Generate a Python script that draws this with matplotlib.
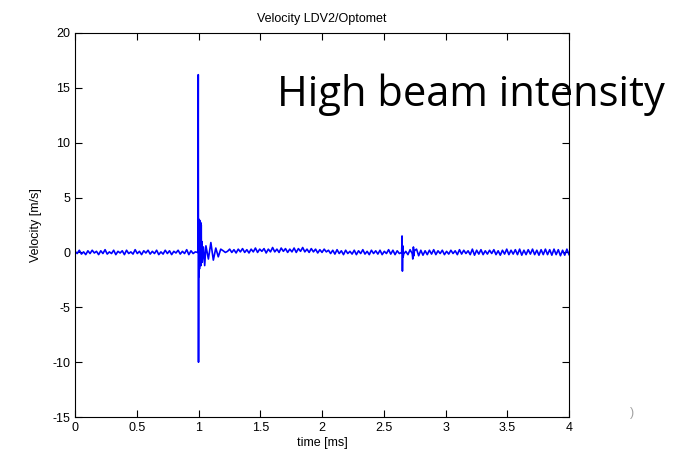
import numpy as np
import matplotlib
matplotlib.use("Agg")
import matplotlib.pyplot as plt

# baseline noise, evenly spaced over 0..4 ms
noise = [0.1, -0.1, 0.2, -0.15, 0.05, -0.2, 0.15, -0.1, 0.2, -0.05,
         0.1, -0.2, 0.15, -0.1, 0.25, -0.15, 0.05, -0.1, 0.2, -0.2,
         0.1, -0.05, 0.15, -0.2, 0.2, -0.1, 0.05, -0.15, 0.25, -0.1,
         0.1, -0.2, 0.15, -0.05, 0.2, -0.15, 0.1, -0.1, 0.2, -0.2,
         0.05, -0.15, 0.2, -0.1, 0.15, -0.2, 0.1, -0.05, 0.2, -0.15,
         0.1, -0.1, 0.25, -0.2, 0.15, -0.1, 0.05, -0.15, 0.2, -0.1,
         0.0, 0.1, -0.1, 0.2, -0.1, 0.1, 0.0, 0.2, -0.1, 0.15, 0.0, 0.1,
         0.3, 0.0, 0.25, -0.05, 0.3, 0.05, 0.35, 0.0, 0.25, -0.05,
         0.3, 0.05, 0.4, 0.0, 0.3, 0.1, 0.35, -0.05, 0.3, 0.05,
         0.45, 0.05, 0.3, 0.0, 0.4, 0.1, 0.35, 0.0, 0.3, 0.05,
         0.4, 0.0, 0.35, 0.1, 0.45, 0.05, 0.3, 0.0, 0.35, 0.05,
         0.3, -0.05, 0.25, 0.0, 0.3, 0.05, 0.2, -0.1,
         0.2, -0.15, 0.25, -0.1, 0.15, -0.2, 0.2, -0.1, 0.1, -0.15,
         0.2, -0.2, 0.15, -0.1, 0.25, -0.15, 0.1, -0.2, 0.2, -0.1,
         0.15, -0.15, 0.2, -0.2, 0.1, -0.1, 0.25, -0.15, 0.2, -0.2,
         0.15, -0.1, 0.2, -0.15, 0.1, -0.2, 0.25, -0.1, 0.15,
         0.3, -0.3, 0.2, -0.25, 0.15, -0.2, 0.2, -0.15, 0.25, -0.2,
         0.15, -0.1, 0.2, -0.2, 0.1, -0.15, 0.2, -0.1, 0.15, -0.2,
         0.25, -0.15, 0.2, -0.1, 0.15, -0.2, 0.3, -0.25, 0.2, -0.15,
         0.25, -0.2, 0.15, -0.15, 0.2, -0.1, 0.25, -0.2, 0.15, -0.25,
         0.2, -0.15, 0.3, -0.2, 0.2, -0.15, 0.25, -0.2, 0.3, -0.25,
         0.2, -0.2, 0.25, -0.15, 0.3, -0.2, 0.2, -0.25, 0.25, -0.2,
         0.3, -0.2, 0.25, -0.25, 0.3, -0.2, 0.25, -0.3, 0.2, -0.25,
         0.3, -0.2]

# impact event at ~1 ms
ev1_t = [0.995, 0.998, 1.000, 1.002, 1.004, 1.006, 1.008, 1.010, 1.012, 1.014,
         1.016, 1.018, 1.020, 1.022, 1.024, 1.026, 1.030, 1.040, 1.050, 1.060,
         1.080, 1.100, 1.120, 1.140, 1.160, 1.180]
ev1_v = [0.0, 16.2, -10.0, 3.0, -2.2, 3.0, -1.5, 2.9, -1.0, 2.8,
         -0.8, 2.7, -1.2, 2.5, -0.5, 1.0, -0.9, 0.5, -1.2, 0.6,
         -0.6, 0.9, -0.7, 0.4, -0.4, 0.3]

# small event at ~2.65 ms
ev2_t = [2.645, 2.648, 2.651, 2.654, 2.657, 2.72, 2.735, 2.74, 2.745]
ev2_v = [0.0, 1.5, -1.7, 0.6, -0.4, 0.1, -0.6, 0.5, -0.3]

t_noise = np.linspace(0, 4, len(noise))
v_noise = np.array(noise)
keep = ~(((t_noise > 0.99) & (t_noise < 1.19)) | ((t_noise > 2.64) & (t_noise < 2.66)))
t_all = np.concatenate([t_noise[keep], ev1_t, ev2_t])
v_all = np.concatenate([v_noise[keep], ev1_v, ev2_v])
order = np.argsort(t_all, kind="stable")

plt.rcParams['font.family'] = ['Liberation Sans', 'DejaVu Sans']
plt.rcParams['axes.unicode_minus'] = False
fig = plt.figure(figsize=(6.85, 4.57), dpi=100)
ax = fig.add_axes([0.1095, 0.0875, 0.7212, 0.8403])
ax.plot(t_all[order], v_all[order], color="#0000ff", linewidth=1.2)
ax.set_xlim(0, 4)
ax.set_ylim(-15, 20)
ax.set_xticks(np.arange(0, 4.01, 0.5))
ax.set_xticklabels(["0", "0.5", "1", "1.5", "2", "2.5", "3", "3.5", "4"])
ax.set_yticks(np.arange(-15, 21, 5))
ax.tick_params(direction="in", top=True, right=True, length=5, labelsize=9)
ax.set_title("Velocity LDV2/Optomet", fontsize=9, pad=8)
ax.set_xlabel("time [ms]", fontsize=9, labelpad=2)
ax.set_ylabel("Velocity [m/s]", fontsize=9, labelpad=7)

fig.text(277 / 685, 1 - 106 / 457, "High beam intensity", fontsize=30,
         family="Open Sans", color="black", ha="left", va="baseline")
fig.text(630 / 685, 1 - 416 / 457, ")", fontsize=9, color="#a0a0a0")

fig.savefig("out.png", dpi=100)
